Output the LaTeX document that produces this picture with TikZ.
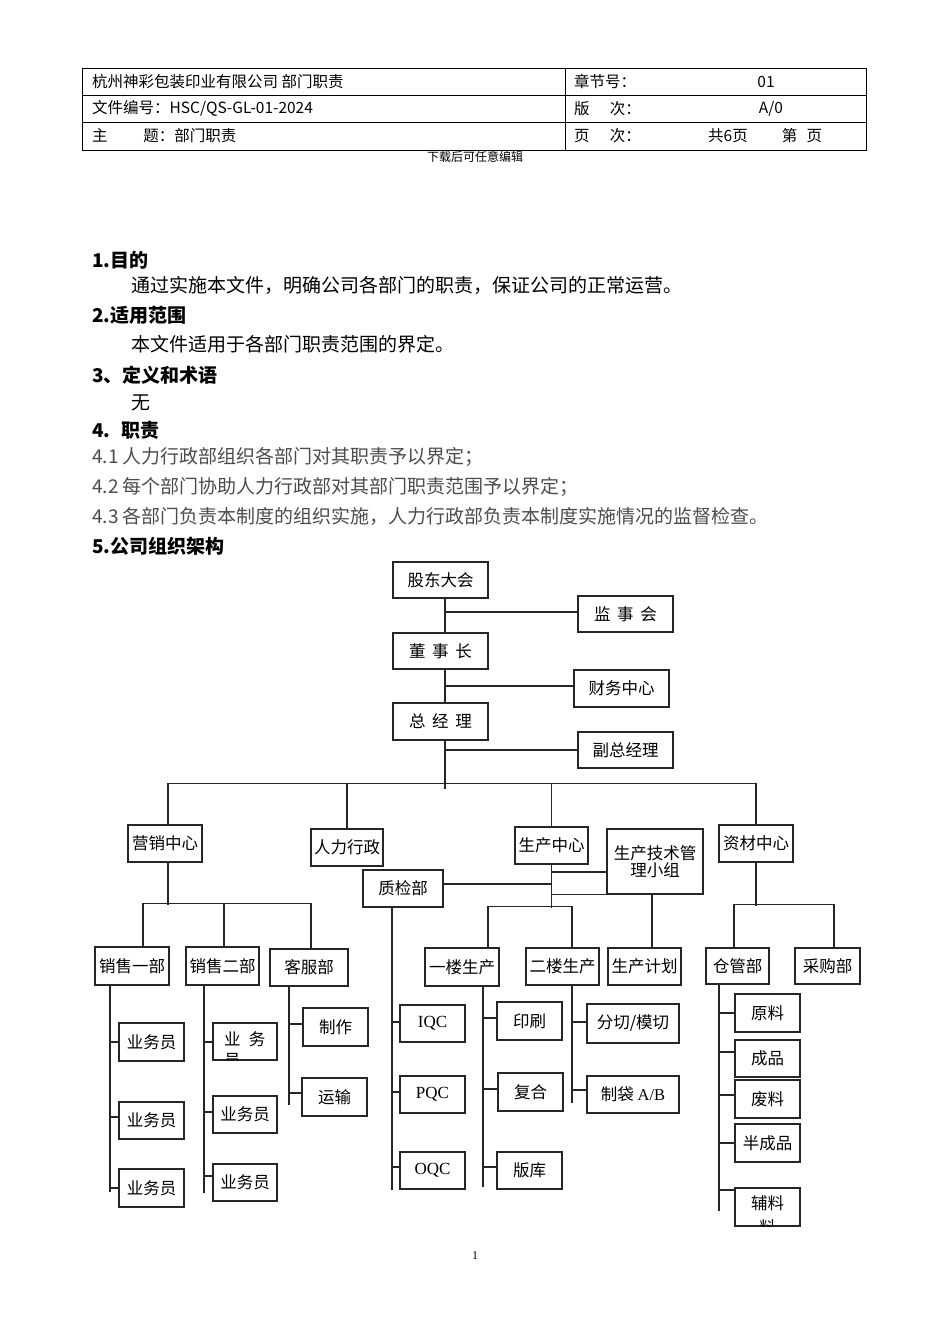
\documentclass[tikz,border=0pt]{standalone}
\usepackage{fontspec}
\setmainfont{Noto Sans CJK SC}
\newfontfamily\serif{Liberation Serif}

\tikzset{
  dept/.style={draw=black!85, line width=1.1pt, inner sep=0pt, minimum height=37, font=\fontsize{16.5}{17}\selectfont},
  link/.style={line width=1.2pt, draw=black!85},
  body/.style={anchor=west, inner sep=0pt, font=\fontsize{19}{23}\selectfont},
  head/.style={anchor=west, inner sep=0pt, font=\fontsize{19}{23}\selectfont\bfseries},
  cell/.style={anchor=west, inner sep=0pt, font=\fontsize{15.5}{18}\selectfont},
}

\begin{document}
\begin{tikzpicture}[x=1pt,y=-1pt]
\useasboundingbox (0,0) rectangle (950,1344);

\draw[line width=0.8pt] (82,68) rectangle (866,150);
\draw[line width=0.8pt] (82,95) -- (866,95);
\draw[line width=0.8pt] (82,122) -- (866,122);
\draw[line width=0.8pt] (565,68) -- (565,150);

\node[cell] (t1) at (92,81.5) {杭州神彩包装印业有限公司 部门职责};
\node[cell] (t2) at (574,81.5) {章节号：};
\node[cell, anchor=center] (t3) at (766,81.5) {01};
\node[cell] (t4) at (92,108.5) {文件编号：HSC/QS-GL-01-2024};
\node[cell] (t5) at (574,108.5) {版\hspace{1.3em}次：};
\node[cell, anchor=center] (t6) at (771,108.5) {A/0};
\node[cell] (t7) at (92,136) {主\hspace{2.3em}题：部门职责};
\node[cell] (t8) at (574,136) {页\hspace{1.3em}次：};
\node[cell] (t9) at (708,136) {共6页\hspace{2.2em}第\hspace{0.6em}页};
\node[inner sep=0pt, font=\fontsize{12}{14}\selectfont] (dl) at (475,157) {下载后可任意编辑};

\node[head] (s1) at (92,260) {1.目的};
\node[body] (s1t) at (131,285) {通过实施本文件，明确公司各部门的职责，保证公司的正常运营。};
\node[head] (s2) at (92,315) {2.适用范围};
\node[body] (s2t) at (131,344) {本文件适用于各部门职责范围的界定。};
\node[head] (s3) at (92,375) {3、定义和术语};
\node[body] (s3t) at (131,403) {无};
\node[head] (s4) at (92,430) {4.\hspace{0.6em}职责};
\node[body, text=black!70] (s41) at (92,457) {4.1 人力行政部组织各部门对其职责予以界定；};
\node[body, text=black!70] (s42) at (92,487) {4.2 每个部门协助人力行政部对其部门职责范围予以界定；};
\node[body, text=black!70] (s43) at (92,516) {4.3 各部门负责本制度的组织实施，人力行政部负责本制度实施情况的监督检查。};
\node[head] (s5) at (92,546) {5.公司组织架构};

\node[dept, minimum width=95, minimum height=36] (gd) at (440.5,580) {股东大会};
\node[dept, minimum width=95, minimum height=36] (jsh) at (625.5,614) {监\hspace{0.4em}事\hspace{0.4em}会};
\node[dept, minimum width=95, minimum height=36] (dsz) at (440.5,651) {董\hspace{0.4em}事\hspace{0.4em}长};
\node[dept, minimum width=95] (cw) at (621.5,688.5) {财务中心};
\node[dept, minimum width=95] (zjl) at (440.5,721.5) {总\hspace{0.4em}经\hspace{0.4em}理};
\node[dept, minimum width=95, minimum height=36] (fz) at (625.5,750) {副总经理};

\node[dept, minimum width=74] (yx) at (165,843.5) {营销中心};
\node[dept, minimum width=72] (rl) at (347,847.5) {人力行政};
\node[dept, minimum width=80] (zj) at (403,888.5) {质检部};
\node[dept, minimum width=73] (sc) at (551.5,845.5) {生产中心};
\node[dept, minimum width=96, minimum height=65, align=center] (js) at (655,861.5) {生产技术管\\理小组};
\node[dept, minimum width=74] (zc) at (756,843.5) {资材中心};

\node[dept, minimum width=74, minimum height=38] (xs1) at (132,966) {销售一部};
\node[dept, minimum width=73, minimum height=38] (xs2) at (222.5,966) {销售二部};
\node[dept, minimum width=78] (kf) at (309,967.5) {客服部};
\node[dept, minimum width=74, minimum height=38] (yl) at (462,967) {一楼生产};
\node[dept, minimum width=73] (el) at (562.5,966.5) {二楼生产};
\node[dept, minimum width=73] (jh) at (644.5,966.5) {生产计划};
\node[dept, minimum width=63, minimum height=36] (cg) at (737.5,966) {仓管部};
\node[dept, minimum width=65, minimum height=36] (cgb) at (827.5,966) {采购部};

\node[dept, minimum width=65, minimum height=38] (yw1) at (151.5,1042) {业务员};
\node[dept, minimum width=65] (yw2) at (151.5,1120.5) {业务员};
\node[dept, minimum width=65, minimum height=38] (yw3) at (151.5,1188) {业务员};
\node[dept, minimum width=64] (yw4) at (245,1041.5) {};
\node[dept, minimum width=64] (yw5) at (245,1114.5) {业务员};
\node[dept, minimum width=64] (yw6) at (245,1182.5) {业务员};
\node[dept, minimum width=65, minimum height=38] (zz) at (335.5,1027) {制作};
\node[dept, minimum width=65, minimum height=38] (ys) at (334.5,1097) {运输};

\node[dept, minimum width=65, font=\fontsize{17}{18}\serif] (iqc) at (432.5,1023.5) {IQC};
\node[dept, minimum width=65, font=\fontsize{17}{18}\serif] (pqc) at (432.5,1094.5) {PQC};
\node[dept, minimum width=65, font=\fontsize{17}{18}\serif] (oqc) at (432.5,1170.5) {OQC};
\node[dept, minimum width=65, minimum height=38] (yss) at (529.5,1021) {印刷};
\node[dept, minimum width=65, minimum height=38] (fh) at (530.5,1092) {复合};
\node[dept, minimum width=65] (bk) at (529.5,1170.5) {版库};
\node[dept, minimum width=92, minimum height=39] (fq) at (633,1023.5) {分切/模切};
\node[dept, minimum width=92] (zd) at (633,1094.5) {制袋 {\serif A/B}};

\node[dept, minimum width=65, minimum height=38] (ylo) at (767.5,1013) {原料};
\node[dept, minimum width=65] (cp) at (767.5,1058.5) {成品};
\node[dept, minimum width=65, minimum height=38] (fl) at (767.5,1099) {废料};
\node[dept, minimum width=65, minimum height=38] (bcp) at (767.5,1143) {半成品};
\node[dept, minimum width=65, minimum height=38] (ful) at (767.5,1207) {};

\begin{scope}
\clip (yw4.south west) rectangle (yw4.north east);
\node[anchor=west, inner sep=0pt, font=\fontsize{16.5}{17}\selectfont] (yw4a) at (224,1039) {业\hspace{0.5em}务};
\node[anchor=west, inner sep=0pt, font=\fontsize{16.5}{17}\selectfont] (yw4b) at (224,1061) {员};
\end{scope}
\begin{scope}
\clip (ful.south west) rectangle (ful.north east);
\node[inner sep=0pt, font=\fontsize{16.5}{17}\selectfont] (fula) at (767.5,1203) {辅料};
\node[inner sep=0pt, font=\fontsize{16.5}{17}\selectfont] (fulb) at (767.5,1227) {料};
\end{scope}

\coordinate (trk) at ([xshift=4.5]gd.south);
\draw[link] (trk) -- ([xshift=4.5]dsz.north);
\draw[link] ([xshift=4.5]dsz.south) -- ([xshift=4.5]zjl.north);
\draw[link] ([xshift=4.5]zjl.south) -- ++(0,48);
\draw[link] ([yshift=2]jsh.west) -- ([yshift=2]jsh.west -| trk);
\draw[link] ([yshift=2.5]cw.west) -- ([yshift=2.5]cw.west -| trk);
\draw[link] (fz.west) -- (fz.west -| trk);

\coordinate (bus) at ([xshift=4.5,yshift=-43]zjl.south);
\draw[link] ([xshift=3]yx.north) |- (bus) -| (zc.north);
\draw[link] (rl.north) -- (rl.north |- bus);
\draw[link] (sc.north) -- (sc.north |- bus);

\draw[link] ([xshift=3]yx.south) -- ++(0,42);
\draw[link] ([xshift=11]xs1.north) -- ++(0,-43) -| ([xshift=2]kf.north);
\draw[link] ([xshift=1.5]xs2.north) -- ++(0,-43);

\draw[link] (sc.south) -- ++(0,43);
\draw[link] ([yshift=4.5]zj.east) -- ([yshift=4.5]zj.east -| sc.south);
\draw[link] ([yshift=-10.5]js.west) -- ([yshift=-10.5]js.west -| sc.south);
\draw[link] (js.south west) -- (js.south west -| sc.south);
\draw[link] ([xshift=26]yl.north) -- ++(0,-41) -| ([xshift=9.5]el.north);
\draw[link] ([xshift=-3]js.south) -- ([xshift=-3]js.south |- jh.north);

\draw[link] (zc.south) -- ++(0,43);
\draw[link] ([xshift=-3.5]cg.north) -- ++(0,-43) -| ([xshift=6.5]cgb.north);

\coordinate (v1) at ([xshift=-22]xs1.south);
\draw[link] (v1) -- ++(0,206);
\draw[link] (yw1.west) -- (yw1.west -| v1);
\draw[link] ([yshift=3.5]yw2.west) -- ([yshift=3.5]yw2.west -| v1);
\draw[link] (yw3.west) -- (yw3.west -| v1);

\coordinate (v2) at ([xshift=-18.5]xs2.south);
\draw[link] (v2) -- ++(0,207);
\draw[link] ([yshift=-0.5]yw4.west) -- ([yshift=-0.5]yw4.west -| v2);
\draw[link] ([yshift=2.5]yw5.west) -- ([yshift=2.5]yw5.west -| v2);
\draw[link] ([yshift=6.5]yw6.west) -- ([yshift=6.5]yw6.west -| v2);

\coordinate (v3) at ([xshift=-20]kf.south);
\draw[link] (v3) -- ++(0,118);
\draw[link] ([yshift=3]zz.west) -- ([yshift=3]zz.west -| v3);
\draw[link] ([yshift=4]ys.west) -- ([yshift=4]ys.west -| v3);

\coordinate (v4) at ([xshift=-11]zj.south);
\draw[link] (v4) -- ++(0,282);
\draw[link] ([yshift=1.5]iqc.west) -- ([yshift=1.5]iqc.west -| v4);
\draw[link] ([yshift=2.5]pqc.west) -- ([yshift=2.5]pqc.west -| v4);
\draw[link] ([yshift=3.5]oqc.west) -- ([yshift=3.5]oqc.west -| v4);

\coordinate (v5) at ([xshift=21]yl.south);
\draw[link] (v5) -- ++(0,200);
\draw[link] ([yshift=3]yss.west) -- ([yshift=3]yss.west -| v5);
\draw[link] ([yshift=3]fh.west) -- ([yshift=3]fh.west -| v5);
\draw[link] ([yshift=3.5]bk.west) -- ([yshift=3.5]bk.west -| v5);

\coordinate (v6) at ([xshift=9.5]el.south);
\draw[link] (v6) -- ++(0,117);
\draw[link, line width=1.8pt] ([yshift=1.5]fq.west) -- ([yshift=1.5]fq.west -| v6);
\draw[link] ([yshift=4.5]zd.west) -- ([yshift=4.5]zd.west -| v6);

\coordinate (v7) at ([xshift=-18.5]cg.south);
\draw[link] (v7) -- ++(0,226);
\draw[link] (ylo.west) -- (ylo.west -| v7);
\draw[link] ([yshift=6.5]cp.west) -- ([yshift=6.5]cp.west -| v7);
\draw[link] ([yshift=4]fl.west) -- ([yshift=4]fl.west -| v7);
\draw[link] (bcp.west) -- (bcp.west -| v7);
\draw[link] ([yshift=17]ful.west) -- ([yshift=17]ful.west -| v7);

\node[inner sep=0pt, font=\fontsize{12}{14}\serif] (pg) at (475,1256) {1};
\end{tikzpicture}
\end{document}
